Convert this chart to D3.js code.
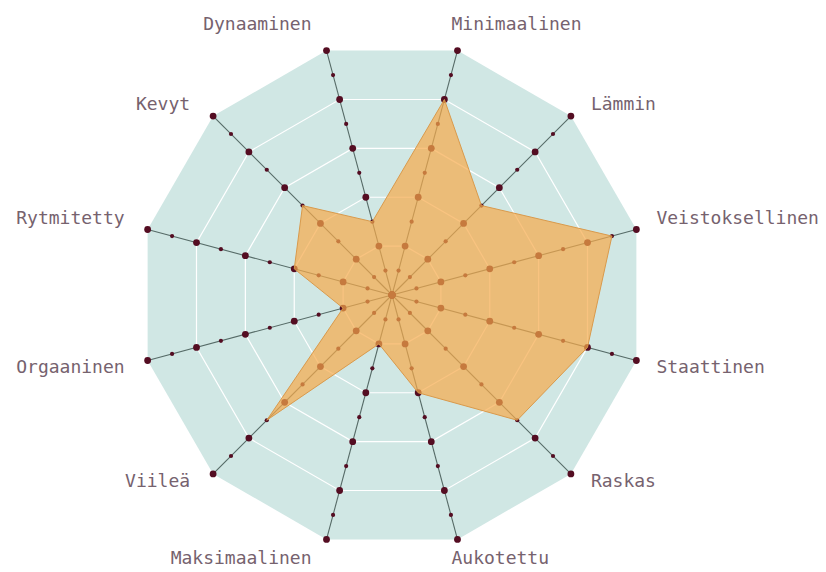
<!DOCTYPE html>
<html>
<head>
<meta charset="utf-8">
<style>
  body { margin: 0; background: #fff; }
  .label { font-family: "DejaVu Sans Mono", monospace; font-size: 18px; fill: #76626e; }
</style>
<script src="https://cdn.jsdelivr.net/npm/d3@7"></script>
</head>
<body>
<svg width="826" height="572"></svg>
<script>
// axes, clockwise from top
var axes = ["Minimaalinen", "Lämmin", "Veistoksellinen", "Staattinen", "Raskas", "Aukotettu",
            "Maksimaalinen", "Viileä", "Orgaaninen", "Rytmitetty", "Kevyt", "Dynaaminen"];
var values = [8, 5, 9, 8, 7, 4, 2, 7, 2, 4, 5, 3];
var levels = [0, 1, 2, 3, 4, 5, 6, 7, 8, 9, 10];
var gridLevels = [2, 4, 6, 8];

var svg = d3.select("svg"),
    cx = 392, cy = 295, R = 253,
    g = svg.append("g").attr("transform", "translate(" + cx + "," + cy + ")");

var ang = d3.scaleBand().domain(axes).range([0, 2 * Math.PI]);
var r = d3.scaleLinear().domain([0, 10]).range([0, R]);

function a(d) { return ang(d) + ang.bandwidth() / 2; }
function px(name, v) { return r(v) * Math.sin(a(name)); }
function py(name, v) { return -r(v) * Math.cos(a(name)); }

var ring = function(v) {
  return d3.lineRadial().angle(function(d) { return a(d); }).radius(r(v)).curve(d3.curveLinearClosed)(axes);
};

// background
g.append("path").attr("d", ring(10)).attr("fill", "#d0e7e4");

g.selectAll(".grid").data(gridLevels).enter().append("path")
    .attr("class", "grid")
    .attr("d", function(d) { return ring(d); })
    .attr("fill", "none").attr("stroke", "#fff").attr("stroke-width", 1.2);

// axis lines
g.selectAll(".axis").data(axes).enter().append("line")
    .attr("class", "axis")
    .attr("x1", 0).attr("y1", 0)
    .attr("x2", function(d) { return px(d, 10); })
    .attr("y2", function(d) { return py(d, 10); })
    .attr("stroke", "#566b67").attr("stroke-width", 1.1);

// dots
var dots = [];
axes.forEach(function(ax) { levels.forEach(function(l) { dots.push({ax: ax, l: l}); }); });
g.selectAll(".dot").data(dots).enter().append("circle")
    .attr("class", "dot")
    .attr("cx", function(d) { return px(d.ax, d.l); })
    .attr("cy", function(d) { return py(d.ax, d.l); })
    .attr("r", function(d) { return d.l % 2 === 0 ? 3.4 : 2.1; })
    .attr("fill", "#540d22");

// value area
var area = d3.lineRadial()
    .angle(function(d, i) { return a(axes[i]); })
    .radius(function(d) { return r(d); })
    .curve(d3.curveLinearClosed);

g.append("path").attr("d", area(values))
    .attr("fill", "#f7a94a").attr("fill-opacity", 0.7)
    .attr("stroke", "#d99a4c").attr("stroke-width", 1);

// labels placed off the tip of each axis
g.selectAll(".label").data(axes).enter().append("text")
    .attr("class", "label")
    .attr("text-anchor", function(d) { return Math.sin(a(d)) > 0 ? "start" : "end"; })
    .attr("x", function(d) {
      var s = Math.sin(a(d)), c = Math.cos(a(d)), x = px(d, 10);
      if (Math.abs(c) > 0.9) return x + (s > 0 ? -6 : -15);
      return x + (s > 0 ? 20 : -23);
    })
    .attr("y", function(d) {
      var c = Math.cos(a(d)), y = py(d, 10);
      if (Math.abs(c) > 0.9) return y + (c > 0 ? -21 : 25);
      return y + (c > 0 ? -6 : 13);
    })
    .text(function(d) { return d; });
</script>
</body>
</html>
